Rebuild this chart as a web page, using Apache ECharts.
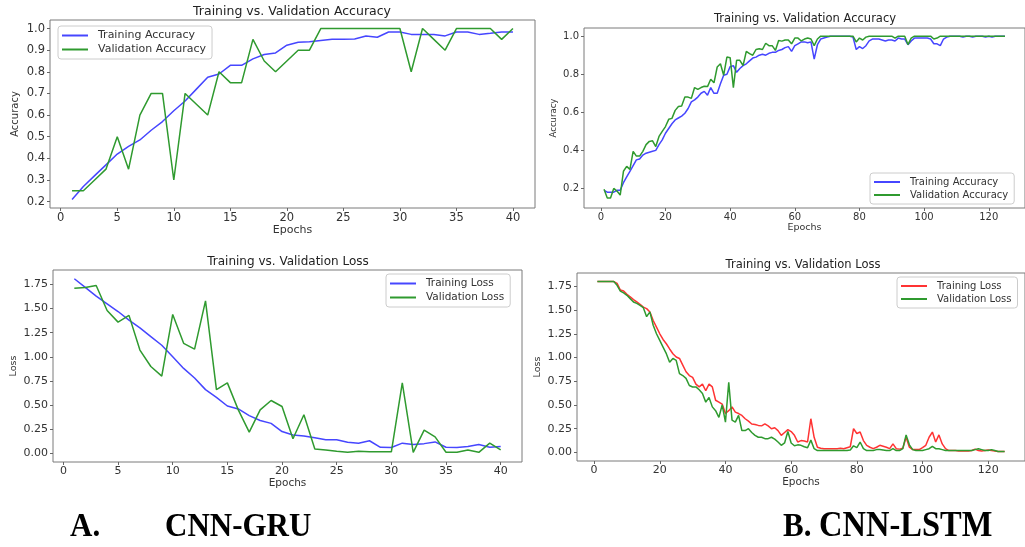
<!DOCTYPE html>
<html>
<head>
<meta charset="utf-8">
<script src="https://cdn.jsdelivr.net/npm/echarts@6/dist/echarts.min.js"></script>
<style>
html,body{margin:0;padding:0;background:#fff;}
#main{width:1025px;height:547px;}
</style>
</head>
<body>
<div id="main"></div>
<script>
// CNN-GRU, 40 epochs
var gruTrainAcc = [0.21,0.27,0.32,0.37,0.42,0.455,0.485,0.53,0.57,0.62,
	0.665,0.72,0.775,0.79,0.83,0.83,0.86,0.88,0.8875,0.923,
	0.937,0.939,0.945,0.95,0.95,0.952,0.966,0.96,0.984,0.984,
	0.973,0.973,0.973,0.966,0.984,0.984,0.973,0.978,0.984,0.984];
var gruValAcc = [0.25,0.25,0.3,0.35,0.5,0.35,0.6,0.7,0.7,0.3,
	0.7,0.65,0.6,0.8,0.75,0.75,0.95,0.85,0.8,0.85,
	0.9,0.9,1.0,1.0,1.0,1.0,1.0,1.0,1.0,1.0,
	0.8,1.0,0.95,0.9,1.0,1.0,1.0,1.0,0.95,1.0];
var gruTrainLoss = [1.81,1.72,1.63,1.55,1.47,1.38,1.30,1.21,1.12,1.00,
	0.88,0.78,0.66,0.58,0.49,0.46,0.39,0.34,0.31,0.225,
	0.19,0.18,0.16,0.14,0.14,0.115,0.105,0.13,0.062,0.06,
	0.105,0.09,0.10,0.118,0.062,0.06,0.07,0.09,0.062,0.07];
var gruValLoss = [1.71,1.72,1.74,1.48,1.36,1.43,1.07,0.90,0.80,1.44,
	1.14,1.08,1.58,0.66,0.73,0.45,0.22,0.45,0.547,0.485,
	0.15,0.40,0.045,0.035,0.02,0.01,0.02,0.015,0.015,0.015,
	0.73,0.01,0.24,0.17,0.01,0.01,0.035,0.01,0.105,0.035];

// CNN-LSTM, 125 epochs
var lstmTrainAcc = [0.19,0.18,0.18,0.18,0.19,0.19,0.23,0.26,0.29,0.32,
	0.35,0.355,0.375,0.385,0.39,0.395,0.40,0.43,0.455,0.49,
	0.515,0.54,0.56,0.57,0.58,0.595,0.62,0.655,0.665,0.68,
	0.70,0.71,0.69,0.73,0.70,0.70,0.75,0.795,0.80,0.84,
	0.845,0.81,0.83,0.845,0.855,0.87,0.885,0.89,0.90,0.905,
	0.90,0.91,0.915,0.915,0.925,0.93,0.94,0.945,0.92,0.95,
	0.96,0.97,0.97,0.965,0.97,0.88,0.955,0.985,0.99,0.995,
	1.0,1.0,1.0,1.0,1.0,1.0,1.0,0.995,0.93,0.945,
	0.935,0.95,0.975,0.985,0.985,0.985,0.98,0.975,0.98,0.98,
	0.975,0.99,0.985,0.985,0.955,0.975,0.99,0.99,0.99,0.99,
	0.99,0.985,0.96,0.96,0.95,0.985,0.995,1.0,1.0,1.0,
	1.0,0.995,1.0,1.0,0.995,1.0,1.0,1.0,0.995,1.0,
	0.995,1.0,1.0,1.0,1.0];
var lstmValAcc = [0.195,0.15,0.15,0.2,0.186,0.165,0.29,0.316,0.30,0.395,
	0.37,0.37,0.395,0.43,0.447,0.45,0.42,0.473,0.5,0.525,
	0.563,0.568,0.61,0.63,0.633,0.68,0.68,0.673,0.73,0.72,
	0.73,0.737,0.735,0.774,0.755,0.838,0.855,0.795,0.89,0.887,
	0.73,0.873,0.873,0.846,0.92,0.908,0.90,0.93,0.934,0.93,
	0.963,0.95,0.95,0.925,0.977,0.974,0.98,0.98,0.96,0.99,
	0.99,0.975,0.985,0.99,0.985,0.95,0.985,1.0,1.0,1.0,
	1.0,1.0,1.0,1.0,1.0,1.0,1.0,1.0,0.97,0.99,
	0.98,0.995,1.0,1.0,1.0,1.0,1.0,1.0,1.0,1.0,
	0.99,1.0,1.0,1.0,0.956,0.99,1.0,1.0,1.0,1.0,
	1.0,1.0,0.985,0.99,1.0,1.0,1.0,1.0,1.0,1.0,
	1.0,1.0,1.0,1.0,1.0,1.0,1.0,1.0,1.0,1.0,
	1.0,1.0,1.0,1.0,1.0];
var lstmTrainLoss = [1.80,1.80,1.80,1.80,1.80,1.80,1.78,1.71,1.70,1.665,
	1.64,1.61,1.585,1.56,1.53,1.515,1.48,1.39,1.32,1.25,
	1.19,1.145,1.09,1.04,1.005,0.99,0.92,0.85,0.81,0.79,
	0.72,0.69,0.72,0.65,0.72,0.69,0.55,0.53,0.51,0.41,
	0.44,0.48,0.425,0.41,0.39,0.355,0.33,0.30,0.295,0.285,
	0.28,0.30,0.28,0.25,0.26,0.23,0.18,0.21,0.24,0.22,
	0.18,0.11,0.125,0.12,0.11,0.355,0.16,0.055,0.045,0.04,
	0.04,0.04,0.04,0.04,0.045,0.04,0.05,0.06,0.25,0.20,
	0.215,0.125,0.075,0.055,0.04,0.055,0.075,0.065,0.055,0.04,
	0.09,0.04,0.035,0.045,0.16,0.055,0.03,0.03,0.03,0.05,
	0.075,0.16,0.215,0.11,0.185,0.09,0.04,0.02,0.02,0.02,
	0.015,0.015,0.015,0.015,0.02,0.035,0.02,0.015,0.02,0.025,
	0.02,0.015,0.01,0.01,0.01];
var lstmValLoss = [1.80,1.80,1.80,1.80,1.80,1.80,1.76,1.70,1.68,1.655,
	1.62,1.585,1.57,1.55,1.525,1.43,1.48,1.34,1.25,1.18,
	1.11,1.04,0.95,0.99,0.97,0.83,0.81,0.78,0.705,0.69,
	0.69,0.66,0.62,0.53,0.58,0.48,0.44,0.37,0.50,0.32,
	0.74,0.34,0.32,0.39,0.23,0.23,0.25,0.21,0.18,0.16,
	0.16,0.145,0.145,0.16,0.14,0.11,0.075,0.10,0.22,0.10,
	0.07,0.08,0.075,0.06,0.05,0.13,0.04,0.02,0.02,0.02,
	0.02,0.02,0.02,0.02,0.02,0.02,0.02,0.025,0.07,0.05,
	0.11,0.04,0.02,0.02,0.02,0.03,0.03,0.025,0.02,0.02,
	0.04,0.02,0.02,0.04,0.185,0.08,0.03,0.02,0.02,0.02,
	0.03,0.04,0.065,0.04,0.04,0.03,0.02,0.02,0.02,0.02,
	0.02,0.02,0.02,0.02,0.02,0.03,0.04,0.03,0.02,0.02,
	0.03,0.02,0.01,0.01,0.01];

// tick labels
var gruEpochTicks = [0,5,10,15,20,25,30,35,40];
var lstmEpochTicks = [0,20,40,60,80,100,120];
var gruAccTicks = [0.2,0.3,0.4,0.5,0.6,0.7,0.8,0.9,1.0];
var lstmAccTicks = [0.2,0.4,0.6,0.8,1.0];
var lossTicks = [0,0.25,0.5,0.75,1.0,1.25,1.5,1.75];

var blue = '#4646ff', green = '#2f9a2f', red = '#ff3333';
var textColor = '#333';

function pairs(arr){
	var out = [];
	for (var i = 0; i < arr.length; i++) out.push([i + 1, arr[i]]);
	return out;
}

function xAxisOf(idx, min, max, ticks, fs, gap){
	return {
		type: 'value', gridIndex: idx, min: min, max: max,
		name: 'Epochs', nameLocation: 'middle', nameGap: gap,
		nameTextStyle: {color: textColor, fontSize: fs - 0.5, fontFamily: 'DejaVu Sans'},
		splitLine: {show: false},
		axisLine: {show: false, onZero: false},
		axisTick: {show: true, length: 3, customValues: ticks, lineStyle: {color: '#666'}},
		axisLabel: {customValues: ticks, margin: 4, color: textColor, fontSize: fs, fontFamily: 'DejaVu Sans'}
	};
}
function yAxisOf(idx, min, max, ticks, digits, fs, name, gap){
	return {
		type: 'value', gridIndex: idx, min: min, max: max,
		name: name, nameLocation: 'middle', nameGap: gap,
		nameTextStyle: {color: textColor, fontSize: fs - 1.5, fontFamily: 'DejaVu Sans'},
		splitLine: {show: false},
		axisLine: {show: false, onZero: false},
		axisTick: {show: true, length: 3, customValues: ticks, lineStyle: {color: '#666'}},
		axisLabel: {customValues: ticks, margin: 5, color: textColor, fontSize: fs, fontFamily: 'DejaVu Sans',
			formatter: function(v){ return v.toFixed(digits); }}
	};
}
function lineOf(name, data, idx, color){
	return {
		name: name, type: 'line', xAxisIndex: idx, yAxisIndex: idx,
		data: pairs(data), showSymbol: false, symbol: 'none',
		lineStyle: {color: color, width: 1.5}, itemStyle: {color: color},
		animation: false
	};
}
function legendOf(left, top, fs, items){
	return {
		left: left, top: top, orient: 'vertical',
		icon: 'rect', itemWidth: 26, itemHeight: 2, itemGap: 3,
		padding: [4, 6, 4, 4],
		backgroundColor: '#fff', borderColor: '#ccc', borderWidth: 1, borderRadius: 3,
		textStyle: {color: textColor, fontSize: fs, fontFamily: 'DejaVu Sans', padding: [0, 0, 0, 5]},
		data: items
	};
}
function title(text, x, y, fs){
	return {type: 'text', x: x, y: y, style: {text: text, fill: '#222', font: fs + 'px "DejaVu Sans"', align: 'center', verticalAlign: 'middle'}};
}
function caption(text, x, fs){
	return {type: 'text', x: x, y: 527, scaleY: 1.12,
		style: {text: text, fill: '#000', font: 'bold ' + fs + 'px "Liberation Serif"', align: 'left', verticalAlign: 'middle'}};
}

var dom = document.getElementById('main');
var myChart = echarts.init(dom);
var gridStyle = {show: true, borderColor: '#7a7a7a', borderWidth: 1, backgroundColor: 'transparent'};

option = {
	animation: false,
	grid: [
		Object.assign({left: 50, top: 20, width: 485, height: 188}, gridStyle),
		Object.assign({left: 584, top: 28, width: 442, height: 180}, gridStyle),
		Object.assign({left: 53, top: 270, width: 469, height: 192}, gridStyle),
		Object.assign({left: 577, top: 273, width: 453, height: 188}, gridStyle)
	],
	xAxis: [
		xAxisOf(0, -0.95, 41.95, gruEpochTicks, 11.5, 11),
		xAxisOf(1, -5.2, 131.2, lstmEpochTicks, 10, 14),
		xAxisOf(2, -0.95, 41.95, gruEpochTicks, 11, 15),
		xAxisOf(3, -5.2, 131.2, lstmEpochTicks, 11, 15)
	],
	yAxis: [
		yAxisOf(0, 0.1705, 1.0395, gruAccTicks, 1, 11.5, 'Accuracy', 30),
		yAxisOf(1, 0.097, 1.043, lstmAccTicks, 1, 10, 'Accuracy', 26),
		yAxisOf(2, -0.0905, 1.9005, lossTicks, 2, 11, 'Loss', 34),
		yAxisOf(3, -0.09, 1.89, lossTicks, 2, 11, 'Loss', 34)
	],
	legend: [
		legendOf(58, 26, 11, [{name: 'Training Accuracy', itemStyle: {color: blue}}, {name: 'Validation Accuracy', itemStyle: {color: green}}]),
		legendOf(870, 173, 10, [{name: 'Training Accuracy', itemStyle: {color: blue}}, {name: 'Validation Accuracy', itemStyle: {color: green}}]),
		legendOf(386, 274, 10.5, [{name: 'Training Loss', itemStyle: {color: blue}}, {name: 'Validation Loss', itemStyle: {color: green}}]),
		legendOf(897, 277, 10, [{name: 'Training Loss', itemStyle: {color: red}}, {name: 'Validation Loss', itemStyle: {color: green}}])
	],
	series: [
		lineOf('Training Accuracy', gruTrainAcc, 0, blue),
		lineOf('Validation Accuracy', gruValAcc, 0, green),
		lineOf('Training Accuracy', lstmTrainAcc, 1, blue),
		lineOf('Validation Accuracy', lstmValAcc, 1, green),
		lineOf('Training Loss', gruTrainLoss, 2, blue),
		lineOf('Validation Loss', gruValLoss, 2, green),
		lineOf('Training Loss', lstmTrainLoss, 3, red),
		lineOf('Validation Loss', lstmValLoss, 3, green)
	],
	graphic: [
		title('Training vs. Validation Accuracy', 292, 12, 12.5),
		title('Training vs. Validation Accuracy', 805, 19, 11.5),
		title('Training vs. Validation Loss', 288, 262, 12),
		title('Training vs. Validation Loss', 803, 265, 11.5),
		caption('A.', 70, 31),
		caption('CNN-GRU', 165, 31),
		caption('B.', 783, 31),
		caption('CNN-LSTM', 819, 32.5)
	]
};
if (option && typeof option === 'object') {
	myChart.setOption(option, true);
}
</script>
</body>
</html>
